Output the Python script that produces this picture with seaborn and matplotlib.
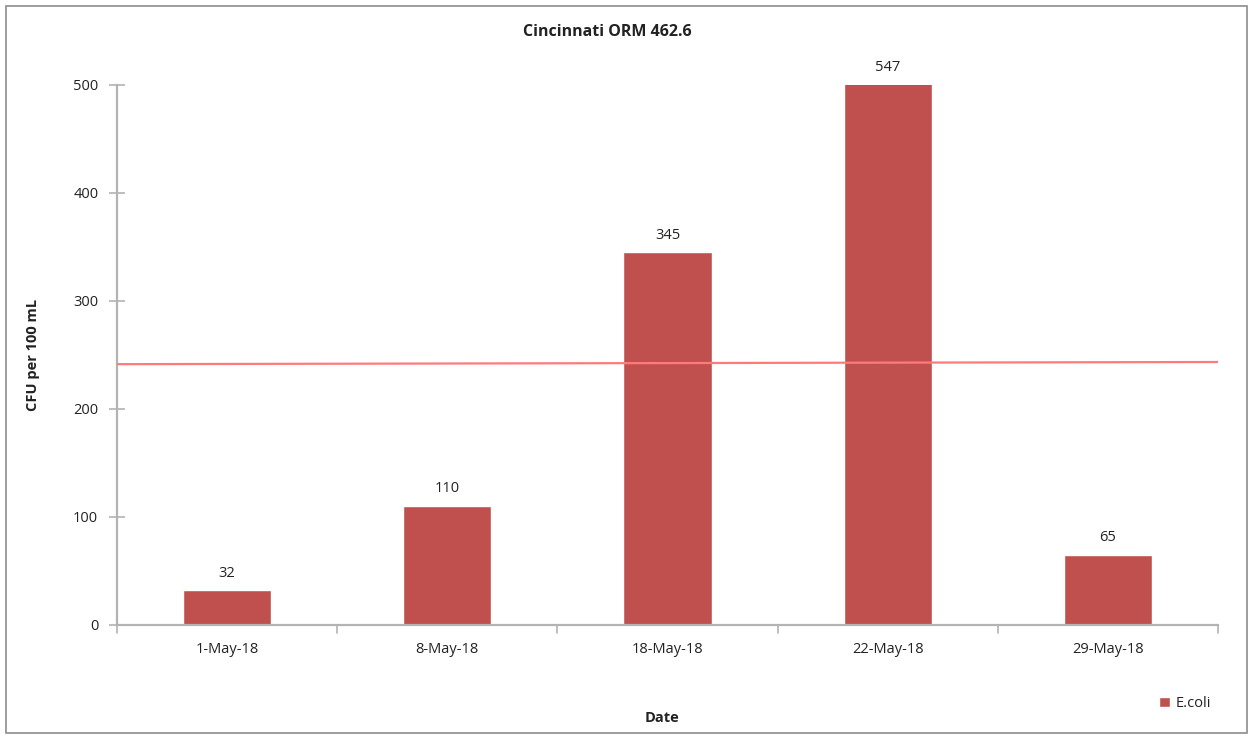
import numpy as np
import pandas as pd
import matplotlib
matplotlib.use("Agg")
import matplotlib.pyplot as plt
import seaborn as sns
from matplotlib.patches import Rectangle

# data
dates = ['1-May-18', '8-May-18', '18-May-18', '22-May-18', '29-May-18']
ecoli = [32, 110, 345, 547, 65]
threshold_ends = [241.5, 243.5]   # the thin red reference line (slightly tilted)
y_ticks = [0, 100, 200, 300, 400, 500]

df = pd.DataFrame({'Date': dates, 'E.coli': ecoli})

sns.set_theme(style="white")
plt.rcParams['font.family'] = ['Open Sans', 'DejaVu Sans']

bar_color = '#c0504d'
axis_color = '#b3b3b3'
text_color = '#222222'
fs = 10.5

fig = plt.figure(figsize=(12.53, 7.39), dpi=100)
ax = fig.add_axes([0.0934, 0.1543, 0.8786, 0.7307])

sns.barplot(data=df, x='Date', y='E.coli', color=bar_color, width=0.4,
            saturation=1, ax=ax, label='E.coli')

# value labels above bars (547 sits above the clipped bar)
for i, v in enumerate(ecoli):
    ax.text(i, min(v, 500) + 9, str(v), ha='center', va='bottom',
            fontsize=fs, color=text_color, clip_on=False)

# reference line
ax.plot([-0.5, len(dates) - 0.5], threshold_ends, color='#ff7b7b', lw=1.6, zorder=3)

ax.set_xlim(-0.5, len(dates) - 0.5)
ax.set_ylim(0, 500)
ax.set_yticks(y_ticks)
ax.set_yticklabels([str(t) for t in y_ticks], fontsize=fs, color=text_color)
ax.set_xticks(range(len(dates)))
ax.set_xticklabels(dates, fontsize=fs, color=text_color)

# category boundary ticks on x, cross ticks on y
ax.tick_params(axis='x', length=0, pad=12)
for b in np.arange(-0.5, len(dates), 1.0):
    ax.plot([b, b], [0, -7], color=axis_color, lw=1.2, clip_on=False)
ax.tick_params(axis='y', direction='inout', length=11, width=1.2,
               color=axis_color, pad=8, left=True)

for side in ['top', 'right']:
    ax.spines[side].set_visible(False)
for side in ['left', 'bottom']:
    ax.spines[side].set_color(axis_color)
    ax.spines[side].set_linewidth(1.6)

ax.set_xlabel('Date', fontsize=fs, fontweight='bold', color=text_color)
ax.xaxis.set_label_coords(0.495, -0.16)
ax.set_ylabel('CFU per 100 mL', fontsize=fs, fontweight='bold', color=text_color)
ax.yaxis.set_label_coords(-0.07, 0.5)
fig.text(0.485, 0.957, 'Cincinnati ORM 462.6', ha='center', va='center',
         fontsize=11.5, fontweight='bold', color=text_color)

leg = ax.legend(loc='center left', bbox_to_anchor=(0.935, -0.145), frameon=False,
                fontsize=fs, handlelength=0.7, handleheight=0.7, handletextpad=0.4)
for t in leg.get_texts():
    t.set_color(text_color)

# outer chart border
fig.patches.append(Rectangle((0.005, 0.008), 0.99, 0.984, transform=fig.transFigure,
                             fill=False, edgecolor='#8c8c8c', lw=1.2))

fig.savefig('out.png', dpi=100)
